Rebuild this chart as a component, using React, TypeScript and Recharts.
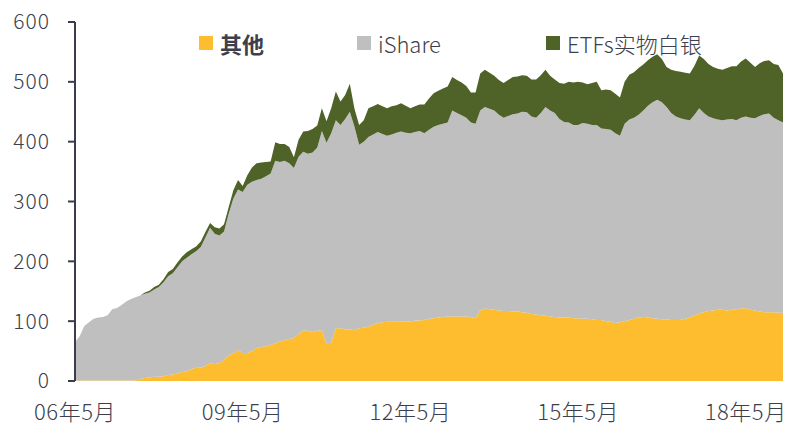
import { AreaChart, Area, XAxis, YAxis } from 'recharts';

// month index 0 = 2006-05, one value per month
const OTHER = [
  1, 1, 1, 1, 1, 1, 1, 1, 1, 1, 1, 1, 1, 1, 3, 5, 6, 7, 7, 8,
  10, 11, 13, 15, 16, 20, 22, 22, 25, 30, 28, 30, 36, 43, 46, 52, 47, 47, 50, 55,
  57, 58, 60, 63, 66, 68, 70, 72, 78, 85, 84, 82, 84, 85, 63, 64, 88, 88, 86, 86,
  85, 88, 89, 91, 94, 97, 98, 99, 99, 99, 99, 100, 99, 101, 101, 102, 104, 105, 106, 107,
  108, 108, 108, 108, 108, 107, 105, 118, 121, 120, 119, 118, 117, 117, 116, 116, 115, 114, 112, 111,
  110, 109, 108, 107, 106, 106, 106, 105, 105, 104, 104, 103, 102, 102, 100, 99, 97, 98, 100, 102,
  104, 106, 107, 106, 105, 104, 103, 103, 102, 102, 102, 104, 106, 110, 113, 115, 117, 118, 119, 119,
  118, 119, 120, 121, 122, 119, 118, 116, 115, 115, 115, 114, 114,
];

const ISHARE = [
  64, 74, 91, 97, 103, 105, 106, 109, 119, 121, 126, 132, 136, 139, 140, 141, 142, 146, 150, 157,
  165, 169, 177, 185, 190, 192, 195, 202, 215, 226, 218, 213, 214, 237, 259, 268, 269, 281, 283, 281,
  281, 284, 287, 305, 300, 300, 294, 284, 297, 298, 296, 300, 306, 333, 335, 350, 348, 340, 352, 364,
  340, 307, 311, 317, 318, 319, 315, 311, 313, 316, 318, 315, 315, 315, 317, 312, 316, 320, 322, 323,
  324, 344, 340, 336, 332, 325, 325, 334, 337, 335, 333, 327, 323, 326, 330, 331, 335, 335, 330, 329,
  338, 349, 344, 341, 332, 327, 326, 323, 323, 327, 326, 325, 326, 320, 321, 321, 317, 312, 330, 335,
  336, 339, 345, 354, 361, 366, 363, 355, 346, 340, 337, 333, 330, 335, 343, 333, 325, 321, 318, 317,
  319, 319, 316, 319, 320, 321, 321, 327, 331, 332, 325, 322, 318,
];

const ETF = [
  0, 0, 0, 0, 0, 0, 0, 0, 0, 0, 0, 0, 0, 0, 0, 2, 3, 4, 4, 5,
  7, 7, 8, 8, 9, 8, 8, 9, 9, 8, 11, 12, 12, 11, 14, 16, 10, 16, 24, 28,
  27, 24, 20, 31, 30, 28, 27, 18, 28, 34, 38, 39, 37, 38, 36, 42, 48, 39, 40, 47,
  30, 33, 36, 48, 47, 47, 46, 46, 47, 46, 47, 45, 42, 43, 44, 48, 52, 56, 57, 59,
  60, 56, 55, 55, 53, 50, 52, 62, 62, 60, 58, 58, 58, 60, 62, 62, 61, 61, 62, 64,
  63, 62, 58, 56, 60, 64, 68, 71, 72, 68, 66, 70, 72, 64, 66, 66, 66, 64, 70, 75,
  76, 78, 77, 76, 76, 76, 72, 67, 72, 76, 78, 78, 78, 82, 88, 90, 88, 86, 85, 84,
  86, 88, 90, 94, 97, 92, 86, 88, 89, 89, 90, 92, 82,
];

const X_TICKS = [0, 36, 72, 108, 144];
const X_LABELS = ['06年5月', '09年5月', '12年5月', '15年5月', '18年5月'];
const Y_TICKS = [0, 100, 200, 300, 400, 500, 600];

const SERIES = [
  { key: 'other', name: '其他', color: '#FEBD2E', bold: true },
  { key: 'ishare', name: 'iShare', color: '#BFBFBF', bold: false },
  { key: 'etf', name: 'ETFs实物白银', color: '#4F6228', bold: false },
];

const data = OTHER.map((v, i) => ({
  m: i,
  other: v,
  ishare: ISHARE[i],
  etf: ETF[i],
}));

const FONT = '"Noto Sans CJK SC", "Noto Sans", sans-serif';
const TEXT = '#3D404C';

// legend entries sit at fixed spots across the top
const LEGEND_LEFT = [199, 357, 546];

function TopLegend() {
  return (
    <div style={{ position: 'absolute', left: 0, top: 0, width: 788, height: 60 }}>
      {SERIES.map((s, i) => (
        <div
          key={s.key}
          style={{
            position: 'absolute',
            left: LEGEND_LEFT[i],
            top: 27,
            height: 32,
            display: 'flex',
            alignItems: 'center',
            fontFamily: FONT,
            fontSize: 22,
            fontWeight: s.bold ? 700 : 300,
            color: TEXT,
            whiteSpace: 'nowrap',
          }}
        >
          <span style={{ width: 14, height: 14, background: s.color, marginRight: 7 }} />
          {s.name}
        </div>
      ))}
    </div>
  );
}

export default function App() {
  return (
    <div style={{ position: 'absolute', left: 0, top: 0, width: 788, height: 425, background: '#fff' }}>
      <AreaChart
        width={788}
        height={425}
        data={data}
        margin={{ top: 22, right: 5, left: 0, bottom: 0 }}
      >
        <XAxis
          dataKey="m"
          type="number"
          domain={[0, 152]}
          ticks={X_TICKS}
          tickFormatter={(v) => X_LABELS[X_TICKS.indexOf(v)] ?? ''}
          axisLine={false}
          tickLine={false}
          height={44}
          tickMargin={17}
          interval={0}
          tick={{ fontSize: 22, fill: TEXT, fontFamily: FONT, fontWeight: 300, letterSpacing: 0.5 }}
        />
        <YAxis
          domain={[0, 600]}
          ticks={Y_TICKS}
          width={75}
          axisLine={{ stroke: '#3A3E4C', strokeWidth: 2 }}
          tickLine={{ stroke: '#3A3E4C', strokeWidth: 2 }}
          tickSize={7}
          tickMargin={18}
          interval={0}
          tick={{ fontSize: 21, fill: TEXT, fontFamily: FONT, fontWeight: 300, letterSpacing: 1 }}
        />
        {SERIES.map((s) => (
          <Area
            key={s.key}
            type="linear"
            dataKey={s.key}
            name={s.name}
            stackId="a"
            stroke="none"
            fill={s.color}
            fillOpacity={1}
            isAnimationActive={false}
          />
        ))}
      </AreaChart>
      <TopLegend />
    </div>
  );
}
